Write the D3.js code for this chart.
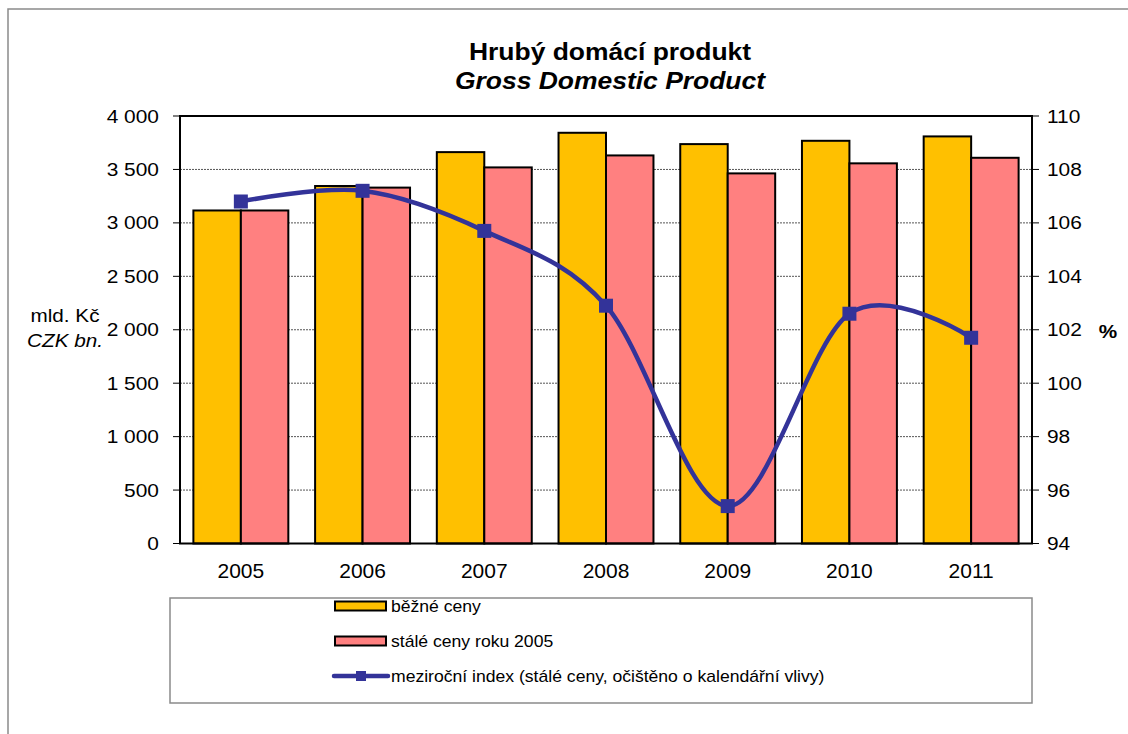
<!DOCTYPE html>
<html>
<head>
<meta charset="utf-8">
<script src="https://cdn.jsdelivr.net/npm/d3@7"></script>
<style>
  html, body { margin: 0; padding: 0; background: #fff; }
  svg { display: block; font-family: "Liberation Sans", Arial, sans-serif; }
</style>
</head>
<body>
<svg id="chart" width="1128" height="734"></svg>
<script>
// Data
const years = ["2005", "2006", "2007", "2008", "2009", "2010", "2011"];
const currentPrices = [3116, 3345, 3662, 3843, 3737, 3768, 3809];   // běžné ceny
const constantPrices = [3116, 3330, 3519, 3631, 3463, 3557, 3609];  // stálé ceny roku 2005
const yearIndex = [106.8, 107.2, 105.7, 102.9, 95.4, 102.6, 101.7]; // meziroční index, %
const leftTicks = [0, 500, 1000, 1500, 2000, 2500, 3000, 3500, 4000];
const rightTicks = [94, 96, 98, 100, 102, 104, 106, 108, 110];
const seriesNames = [
  "běžné ceny",
  "stálé ceny roku 2005",
  "meziroční index (stálé ceny, očištěno o kalendářní vlivy)"
];

const svg = d3.select("#chart");
const colYellow = "#FFC000", colPink = "#FF8080", colBlue = "#333399";

const plot = { left: 180, right: 1032, top: 116, bottom: 543.5 };

const x = d3.scaleBand().domain(years).range([plot.left, plot.right])
  .paddingInner(0.22).paddingOuter(0.11);
const x1 = d3.scaleBand().domain(["cur", "const"]).range([0, x.bandwidth()]);
const yL = d3.scaleLinear().domain([0, 4000]).range([plot.bottom, plot.top]);
const yR = d3.scaleLinear().domain([94, 110]).range([plot.bottom, plot.top]);

const fmt = v => d3.format(",")(v).replace(/,/g, " ");

// text helper with slight horizontal stretch
function label(g, x0, y0, txt, opts) {
  const o = Object.assign({ size: 18, sx: 1.1, anchor: "middle", weight: "normal", style: "normal" }, opts || {});
  return g.append("text")
    .attr("transform", `translate(${x0},${y0}) scale(${o.sx},1)`)
    .attr("text-anchor", o.anchor)
    .attr("font-size", o.size)
    .attr("font-weight", o.weight)
    .attr("font-style", o.style)
    .attr("fill", "#000")
    .text(txt);
}

// Outer chart frame
svg.append("rect").attr("x", 8).attr("y", 9).attr("width", 1200).attr("height", 800)
  .attr("fill", "none").attr("stroke", "#8a8a8a").attr("stroke-width", 1.5);

// Title
label(svg, 610, 60, "Hrubý domácí produkt", { size: 24.5, sx: 1.08, weight: "bold" });
label(svg, 610, 89, "Gross Domestic Product", { size: 24.5, sx: 1.08, weight: "bold", style: "italic" });

// Gridlines
svg.append("g").selectAll("line")
  .data(leftTicks.filter(t => t > 0 && t < 4000))
  .join("line")
  .attr("x1", plot.left).attr("x2", plot.right)
  .attr("y1", d => yL(d)).attr("y2", d => yL(d))
  .attr("stroke", "#555").attr("stroke-width", 1).attr("stroke-dasharray", "2,1");

// Bars
const groups = svg.append("g").selectAll("g").data(years).join("g")
  .attr("transform", d => `translate(${x(d)},0)`);
groups.append("rect")
  .attr("x", x1("cur")).attr("width", x1.bandwidth())
  .attr("y", (d, i) => yL(currentPrices[i]))
  .attr("height", (d, i) => yL(0) - yL(currentPrices[i]))
  .attr("fill", colYellow).attr("stroke", "#000").attr("stroke-width", 2);
groups.append("rect")
  .attr("x", x1("const")).attr("width", x1.bandwidth())
  .attr("y", (d, i) => yL(constantPrices[i]))
  .attr("height", (d, i) => yL(0) - yL(constantPrices[i]))
  .attr("fill", colPink).attr("stroke", "#000").attr("stroke-width", 2);

// Plot frame
svg.append("rect").attr("x", plot.left).attr("y", plot.top)
  .attr("width", plot.right - plot.left).attr("height", plot.bottom - plot.top)
  .attr("fill", "none").attr("stroke", "#000").attr("stroke-width", 2);

// Index line
const cx = i => x(years[i]) + x.bandwidth() / 2;
const line = d3.line()
  .x((d, i) => cx(i))
  .y(d => yR(d))
  .curve(d3.curveCatmullRom.alpha(0));
svg.append("path").datum(yearIndex)
  .attr("d", line).attr("fill", "none")
  .attr("stroke", colBlue).attr("stroke-width", 4.5).attr("stroke-linejoin", "round");
svg.append("g").selectAll("rect").data(yearIndex).join("rect")
  .attr("x", (d, i) => cx(i) - 7).attr("y", d => yR(d) - 7)
  .attr("width", 14).attr("height", 14).attr("fill", colBlue);

// Left axis
const axL = svg.append("g");
axL.selectAll("line").data(leftTicks).join("line")
  .attr("x1", plot.left - 7).attr("x2", plot.left)
  .attr("y1", d => yL(d)).attr("y2", d => yL(d))
  .attr("stroke", "#000").attr("stroke-width", 1);
leftTicks.forEach(t => label(axL, 159, yL(t) + 6.5, fmt(t), { anchor: "end", size: 19, sx: 1.1 }));

// Right axis
const axR = svg.append("g");
axR.selectAll("line").data(rightTicks).join("line")
  .attr("x1", plot.right).attr("x2", plot.right + 7)
  .attr("y1", d => yR(d)).attr("y2", d => yR(d))
  .attr("stroke", "#000").attr("stroke-width", 1);
rightTicks.forEach(t => label(axR, 1047, yR(t) + 6.5, String(t), { anchor: "start", size: 19, sx: 1.1 }));

// Category labels
years.forEach(y => label(svg, x(y) + x.bandwidth() / 2, 578, y, { size: 20, sx: 1.05 }));

// Axis titles
label(svg, 65, 322, "mld. Kč", { size: 18.5, sx: 1.12 });
label(svg, 65, 347, "CZK bn.", { size: 18.5, sx: 1.12, style: "italic" });
label(svg, 1108, 338, "%", { size: 18.5, sx: 1.12, weight: "bold" });

// Legend
const lg = svg.append("g");
lg.append("rect").attr("x", 170).attr("y", 598).attr("width", 862).attr("height", 105)
  .attr("fill", "#fff").attr("stroke", "#8a8a8a").attr("stroke-width", 1.5);
const rowY = [606, 641, 676];
lg.append("rect").attr("x", 335).attr("y", rowY[0] - 4.5).attr("width", 51).attr("height", 9)
  .attr("fill", colYellow).attr("stroke", "#000").attr("stroke-width", 2);
lg.append("rect").attr("x", 335).attr("y", rowY[1] - 4.5).attr("width", 51).attr("height", 9)
  .attr("fill", colPink).attr("stroke", "#000").attr("stroke-width", 2);
lg.append("line").attr("x1", 334).attr("x2", 388).attr("y1", rowY[2]).attr("y2", rowY[2])
  .attr("stroke", colBlue).attr("stroke-width", 4.5).attr("stroke-linecap", "round");
lg.append("rect").attr("x", 356).attr("y", rowY[2] - 5).attr("width", 10).attr("height", 10)
  .attr("fill", colBlue);
seriesNames.forEach((n, i) => label(lg, 391, rowY[i] + 5.5, n, { anchor: "start", size: 16, sx: 1.1 }));
</script>
</body>
</html>
